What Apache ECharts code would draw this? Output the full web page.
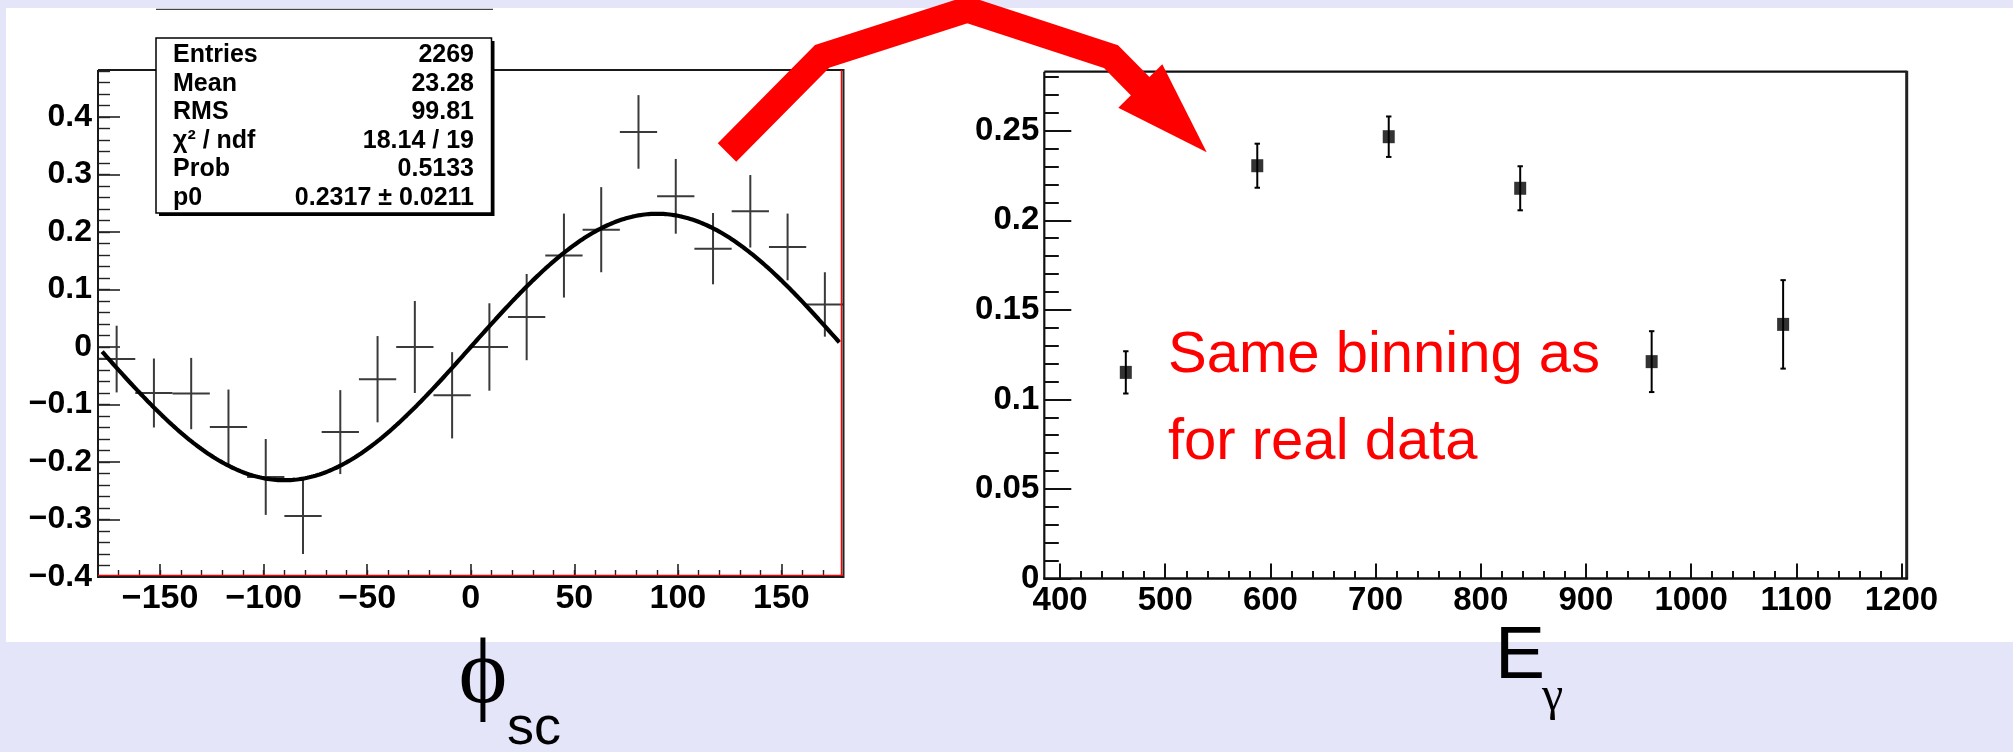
<!DOCTYPE html>
<html>
<head>
<meta charset="utf-8">
<script src="https://cdn.jsdelivr.net/npm/echarts@6/dist/echarts.min.js"></script>
<style>
  html, body { margin: 0; padding: 0; background: #e5e5fa; }
  #wrap { position: relative; width: 2013px; height: 752px; overflow: hidden; }
  #panel { position: absolute; left: 6px; top: 8px; width: 2007px; height: 634px; background: #ffffff; }
  #chart { position: absolute; left: 0; top: 0; width: 2013px; height: 752px; }
</style>
</head>
<body>
<div id="wrap">
  <div id="panel"></div>
  <div id="chart"></div>
</div>
<script>
// ---- azimuthal asymmetry vs. phi_sc (20 bins of 18 degrees) ----
const phiCenters = [-171, -153, -135, -117, -99, -81, -63, -45, -27, -9,
                    9, 27, 45, 63, 81, 99, 117, 135, 153, 171];
const phiBinWidth = 18;
const asymValues = [-0.021, -0.080, -0.081, -0.139, -0.226, -0.294, -0.148, -0.056, 0.000, -0.084,
                    0.000, 0.052, 0.159, 0.204, 0.374, 0.262, 0.171, 0.236, 0.174, 0.074];
const asymErrors = [0.058, 0.060, 0.062, 0.065, 0.066, 0.066, 0.073, 0.075, 0.080, 0.075,
                    0.076, 0.075, 0.073, 0.074, 0.064, 0.065, 0.062, 0.063, 0.058, 0.056];

// fit result f(phi) = p0 * sin(phi)
const fitP0 = 0.2317;
const statNames  = ['Entries', 'Mean', 'RMS', 'χ² / ndf', 'Prob', 'p0'];
const statValues = ['2269', '23.28', '99.81', '18.14 / 19', '0.5133', '0.2317 ± 0.0211'];

// ---- fitted amplitude vs. photon energy ----
const egCenters = [462.5, 587.5, 712.5, 837.5, 962.5, 1087.5];
const ampValues = [0.1151, 0.2305, 0.2467, 0.2179, 0.1211, 0.1419];
const ampErrors = [0.0118, 0.0123, 0.0113, 0.0123, 0.0170, 0.0247];

// ---- axis ticks and labels ----
const phiXTicks  = [-150, -100, -50, 0, 50, 100, 150];
const phiXLabels = ['−150', '−100', '−50', '0', '50', '100', '150'];
const phiYTicks  = [-0.4, -0.3, -0.2, -0.1, 0, 0.1, 0.2, 0.3, 0.4];
const phiYLabels = ['−0.4', '−0.3', '−0.2', '−0.1', '0', '0.1', '0.2', '0.3', '0.4'];
const egXTicks   = [400, 500, 600, 700, 800, 900, 1000, 1100, 1200];
const egXLabels  = ['400', '500', '600', '700', '800', '900', '1000', '1100', '1200'];
const egYTicks   = [0, 0.05, 0.1, 0.15, 0.2, 0.25];
const egYLabels  = ['0', '0.05', '0.1', '0.15', '0.2', '0.25'];

function steps(from, to, step) {
  const out = [];
  for (let v = from; v <= to + step * 1e-6; v += step) out.push(Math.round(v * 1e6) / 1e6);
  return out;
}
const phiXMinor = steps(-170, 170, 10);
const phiYMinor = steps(-0.38, 0.48, 0.02);
const egXMinor  = steps(400, 1200, 20);
const egYMinor  = steps(0, 0.28, 0.01);

function labelFor(ticks, labels) {
  return function (v) {
    const i = ticks.findIndex(t => Math.abs(t - v) < 1e-9);
    return i < 0 ? '' : labels[i];
  };
}

// frame geometry of the two pads
const L = { x0: 98, y0: 70, x1: 843.5, y1: 577 };
const R = { x0: 1044.3, y0: 71.7, x1: 1906.7, y1: 578.5 };

const fitCurve = [];
for (let phi = -178; phi <= 178; phi += 1) {
  fitCurve.push([phi, fitP0 * Math.sin(phi * Math.PI / 180)]);
}

const binData = phiCenters.map((c, i) => [c, asymValues[i], asymErrors[i]]);
const ampData = egCenters.map((c, i) => [c, ampValues[i], ampErrors[i]]);

const labelFont = { fontFamily: 'Liberation Sans', fontWeight: 'bold', color: '#000' };

function baseAxis(extra) {
  return Object.assign({
    type: 'value',
    axisLine: { show: false, onZero: false },
    splitLine: { show: false },
  }, extra);
}

const chart = echarts.init(document.getElementById('chart'), null, { renderer: 'canvas' });

function statText(i) {
  const y = 55.3 + 28.5 * i;
  return [
    { type: 'text', z: 31, style: { x: 173, y: y, text: statNames[i], font: 'bold 25px "Liberation Sans"', fill: '#000', align: 'left', verticalAlign: 'middle' } },
    { type: 'text', z: 31, style: { x: 474, y: y, text: statValues[i], font: 'bold 25px "Liberation Sans"', fill: '#000', align: 'right', verticalAlign: 'middle' } }
  ];
}

function hline(x1, x2, y, color, w, z) {
  return { type: 'line', z: z || 10, shape: { x1: x1, y1: y, x2: x2, y2: y }, style: { stroke: color, lineWidth: w } };
}
function vline(x, y1, y2, color, w, z) {
  return { type: 'line', z: z || 10, shape: { x1: x, y1: y1, x2: x, y2: y2 }, style: { stroke: color, lineWidth: w } };
}

const graphics = [
  // left pad frame
  hline(L.x0, L.x1, L.y0, '#1a1a1a', 2),
  vline(L.x0, L.y0, L.y1 + 1, '#1a1a1a', 2),
  vline(L.x1 - 2, L.y0, L.y1, '#ff0000', 1.5),
  vline(L.x1, L.y0 - 1, L.y1 + 1, '#222222', 2),
  hline(L.x0, L.x1, L.y1 - 1.5, '#ff0000', 1.5),
  hline(L.x0 - 1, L.x1, L.y1, '#1a1a1a', 2),
  // right pad frame
  hline(R.x0, R.x1, R.y0, '#111111', 2.2),
  vline(R.x0, R.y0, R.y1 + 1, '#111111', 2.2),
  vline(R.x1, R.y0 - 1, R.y1 + 1, '#222222', 3),
  hline(R.x0 - 1, R.x1 + 1, R.y1, '#111111', 2.5),
  // thin line above the statistics box
  hline(156, 493, 9.3, '#444444', 1.2, 30),
  // statistics box with shadow
  { type: 'rect', z: 29, shape: { x: 159, y: 41, width: 335.5, height: 175 }, style: { fill: '#000' } },
  { type: 'rect', z: 30, shape: { x: 156, y: 38, width: 335.5, height: 175 }, style: { fill: '#fff', stroke: '#000', lineWidth: 1.5 } },
  ...statNames.map((_, i) => statText(i)).flat(),
  // axis titles
  { type: 'text', z: 20, style: { x: 483, y: 677.6, text: 'ϕ', font: '93px "Liberation Serif", "DejaVu Serif"', fill: '#000', align: 'center', verticalAlign: 'middle' } },
  { type: 'text', z: 20, style: { x: 507, y: 729.6, text: 'sc', font: '54px "Liberation Sans"', fill: '#000', align: 'left', verticalAlign: 'middle' } },
  { type: 'text', z: 20, style: { x: 1495, y: 657.3, text: 'E', font: '75px "Liberation Sans"', fill: '#000', align: 'left', verticalAlign: 'middle' } },
  { type: 'text', z: 20, style: { x: 1542, y: 697.5, text: 'γ', font: '48px "Liberation Serif", "DejaVu Serif"', fill: '#000', align: 'left', verticalAlign: 'middle' } },
  // annotation
  { type: 'text', z: 20, style: { x: 1168, y: 355.9, text: 'Same binning as', font: '58px "Liberation Sans"', fill: '#ff0000', align: 'left', verticalAlign: 'middle' } },
  { type: 'text', z: 20, style: { x: 1168, y: 443.2, text: 'for real data', font: '58px "Liberation Sans"', fill: '#ff0000', align: 'left', verticalAlign: 'middle' } },
  // red arrow linking the two pads
  { type: 'polyline', z: 50, shape: { points: [[727, 152.5], [822, 56.5], [967.4, 9.6], [1111, 56.6], [1141, 87]] },
    style: { stroke: '#ff0000', lineWidth: 26, lineJoin: 'miter', lineCap: 'butt', fill: null } },
  { type: 'polygon', z: 50, shape: { points: [[1118.3, 107.7], [1162.3, 64.3], [1206.7, 152.3]] },
    style: { fill: '#ff0000' } }
];

const option = {
  animation: false,
  backgroundColor: 'transparent',
  grid: [
    { left: L.x0, top: L.y0, width: L.x1 - L.x0, height: L.y1 - L.y0, containLabel: false, outerBoundsMode: 'none' },
    { left: R.x0, top: R.y0, width: R.x1 - R.x0, height: R.y1 - R.y0, containLabel: false, outerBoundsMode: 'none' }
  ],
  xAxis: [
    baseAxis({ gridIndex: 0, position: 'bottom', min: -180, max: 180,
      axisTick: { show: true, inside: true, length: 13, customValues: phiXTicks, lineStyle: { color: '#222', width: 1.6 } },
      axisLabel: Object.assign({ show: true, fontSize: 34, margin: 5, customValues: phiXTicks, formatter: labelFor(phiXTicks, phiXLabels) }, labelFont) }),
    baseAxis({ gridIndex: 0, position: 'bottom', min: -180, max: 180,
      axisTick: { show: true, inside: true, length: 7, customValues: phiXMinor, lineStyle: { color: '#222', width: 1.4 } },
      axisLabel: { show: false } }),
    baseAxis({ gridIndex: 1, position: 'bottom', min: 385, max: 1205,
      axisTick: { show: true, inside: true, length: 15, customValues: egXTicks, lineStyle: { color: '#111', width: 2 } },
      axisLabel: Object.assign({ show: true, fontSize: 33, margin: 6, customValues: egXTicks, formatter: labelFor(egXTicks, egXLabels) }, labelFont) }),
    baseAxis({ gridIndex: 1, position: 'bottom', min: 385, max: 1205,
      axisTick: { show: true, inside: true, length: 7.5, customValues: egXMinor, lineStyle: { color: '#111', width: 2 } },
      axisLabel: { show: false } })
  ],
  yAxis: [
    baseAxis({ gridIndex: 0, position: 'left', min: -0.4, max: 0.4817,
      axisTick: { show: true, inside: true, length: 22, customValues: phiYTicks, lineStyle: { color: '#222', width: 1.6 } },
      axisLabel: Object.assign({ show: true, fontSize: 32, margin: 6, padding: [6, 0, 0, 0], customValues: phiYTicks, formatter: labelFor(phiYTicks, phiYLabels) }, labelFont) }),
    baseAxis({ gridIndex: 0, position: 'left', min: -0.4, max: 0.4817,
      axisTick: { show: true, inside: true, length: 12, customValues: phiYMinor, lineStyle: { color: '#222', width: 1.4 } },
      axisLabel: { show: false } }),
    baseAxis({ gridIndex: 1, position: 'left', min: 0, max: 0.283,
      axisTick: { show: true, inside: true, length: 27, customValues: egYTicks, lineStyle: { color: '#111', width: 2 } },
      axisLabel: Object.assign({ show: true, fontSize: 33, margin: 5, padding: [8, 0, 0, 0], customValues: egYTicks, formatter: labelFor(egYTicks, egYLabels) }, labelFont) }),
    baseAxis({ gridIndex: 1, position: 'left', min: 0, max: 0.283,
      axisTick: { show: true, inside: true, length: 14.5, customValues: egYMinor, lineStyle: { color: '#111', width: 2 } },
      axisLabel: { show: false } })
  ],
  series: [
    {
      name: 'asymmetry', type: 'custom', xAxisIndex: 0, yAxisIndex: 0, z: 3,
      encode: { x: 0, y: 1 },
      data: binData,
      renderItem: function (params, api) {
        const x = api.value(0), y = api.value(1), e = api.value(2);
        const a = api.coord([x - phiBinWidth / 2, y]);
        const b = api.coord([x + phiBinWidth / 2, y]);
        const t = api.coord([x, y + e]);
        const d = api.coord([x, y - e]);
        const st = { stroke: '#3a3a3a', lineWidth: 2 };
        return { type: 'group', children: [
          { type: 'line', shape: { x1: a[0], y1: a[1], x2: b[0], y2: b[1] }, style: st },
          { type: 'line', shape: { x1: t[0], y1: t[1], x2: d[0], y2: d[1] }, style: st }
        ] };
      }
    },
    {
      name: 'fit', type: 'line', xAxisIndex: 0, yAxisIndex: 0, z: 4,
      data: fitCurve, showSymbol: false, smooth: false,
      lineStyle: { color: '#000', width: 4.2 }
    },
    {
      name: 'amplitude errors', type: 'custom', xAxisIndex: 2, yAxisIndex: 2, z: 3,
      encode: { x: 0, y: 1 },
      data: ampData,
      renderItem: function (params, api) {
        const x = api.value(0), y = api.value(1), e = api.value(2);
        const t = api.coord([x, y + e]);
        const d = api.coord([x, y - e]);
        const st = { stroke: '#000', lineWidth: 2 };
        const cap = 2.7;
        return { type: 'group', children: [
          { type: 'line', shape: { x1: t[0], y1: t[1], x2: d[0], y2: d[1] }, style: st },
          { type: 'line', shape: { x1: t[0] - cap, y1: t[1], x2: t[0] + cap, y2: t[1] }, style: st },
          { type: 'line', shape: { x1: d[0] - cap, y1: d[1], x2: d[0] + cap, y2: d[1] }, style: st }
        ] };
      }
    },
    {
      name: 'amplitude', type: 'scatter', xAxisIndex: 2, yAxisIndex: 2, z: 4,
      data: ampData.map(p => [p[0], p[1]]),
      symbol: 'rect', symbolSize: [12, 13],
      itemStyle: { color: '#000' }
    }
  ],
  graphic: graphics
};

chart.setOption(option);
</script>
</body>
</html>
